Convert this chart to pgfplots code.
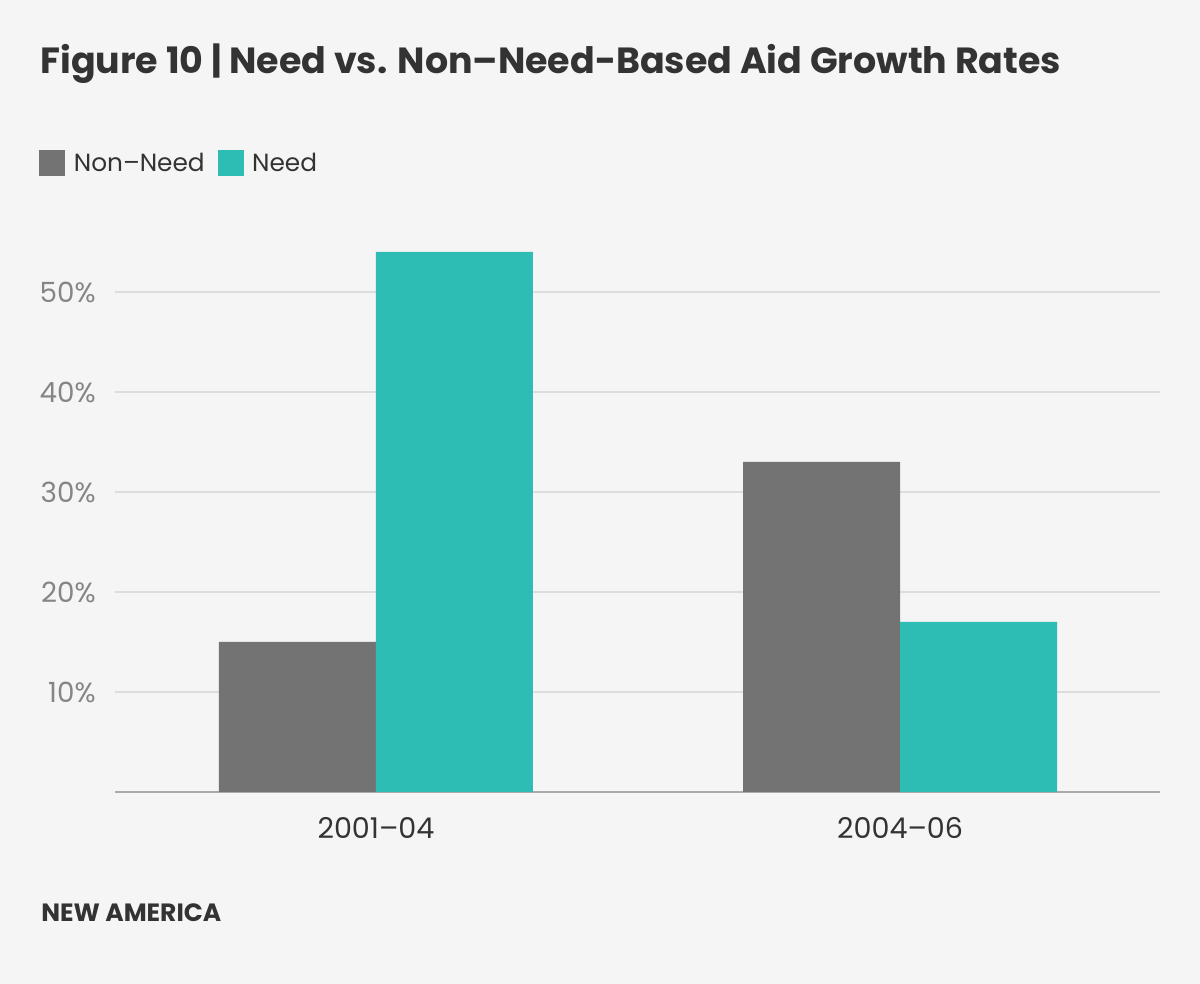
\documentclass[border=0pt]{standalone}
\usepackage{fontspec}
\setmainfont{Poppins}
\usepackage{pgfplots}
\pgfplotsset{compat=1.18}

\definecolor{bgcol}{HTML}{F5F5F5}
\definecolor{nonneed}{HTML}{737373}
\definecolor{need}{HTML}{2EBDB4}
\definecolor{titlecol}{HTML}{333333}
\definecolor{tickcol}{HTML}{858585}
\definecolor{gridcol}{HTML}{DDDDDD}
\definecolor{axiscol}{HTML}{AAAAAA}

\begin{document}
\begin{tikzpicture}
  % canvas: 1200 x 984 px at 0.5pt per px
  \fill[bgcol] (0,0) rectangle (600pt,492pt);
  \node[anchor=base west, inner sep=0pt, text=titlecol, font=\fontsize{18.2}{22}\selectfont\bfseries]
    at (20pt,455pt) {Figure 10 | Need vs. Non–Need-Based Aid Growth Rates};
  \node[anchor=base west, inner sep=0pt, text=titlecol, font=\fontsize{12.5}{14}\selectfont\bfseries]
    at (20.5pt,31pt) {NEW AMERICA};

  \begin{axis}[
      at={(57.5pt,96pt)}, anchor=south west,
      scale only axis,
      width=522.5pt, height=280pt,
      ybar=0pt, bar width=78.5pt,
      xmin=-0.498, xmax=1.496,
      ymin=0, ymax=56,
      xtick=data,
      xticklabels={2001–04, 2004–06},
      ytick={10,20,30,40,50},
      yticklabels={10\%,20\%,30\%,40\%,50\%},
      axis x line*=bottom,
      axis y line*=left,
      x axis line style={draw=axiscol, line width=1pt, -},
      y axis line style={draw=none},
      major tick length=0pt,
      ymajorgrids,
      grid style={draw=gridcol, line width=1pt},
      ticklabel style={inner sep=0pt},
      yticklabel style={anchor=east, xshift=-9.5pt, text=tickcol,
        font=\fontsize{13.9}{16}\selectfont},
      xticklabel style={anchor=north, yshift=-12.5pt, text=titlecol,
        font=\fontsize{14.3}{16}\selectfont},
      legend columns=-1,
      legend style={at={(-0.0727,1.1223)}, anchor=west, draw=none, fill=none,
        inner sep=0pt, text=titlecol,
        font=\fontsize{12.4}{16}\selectfont,
        nodes={inner sep=0pt},
        /tikz/every odd column/.append style={column sep=4.2pt},
        /tikz/every even column/.append style={column sep=6.5pt}},
      legend image code/.code={\fill[#1] (0pt,-6.5pt) rectangle (13pt,6.5pt);},
    ]
    \addplot[fill=nonneed, draw=none] coordinates {(0,15) (1,33)};
    \addplot[fill=need, draw=none] coordinates {(0,54) (1,17)};
    \legend{Non–Need, Need}
  \end{axis}
\end{tikzpicture}
\end{document}
